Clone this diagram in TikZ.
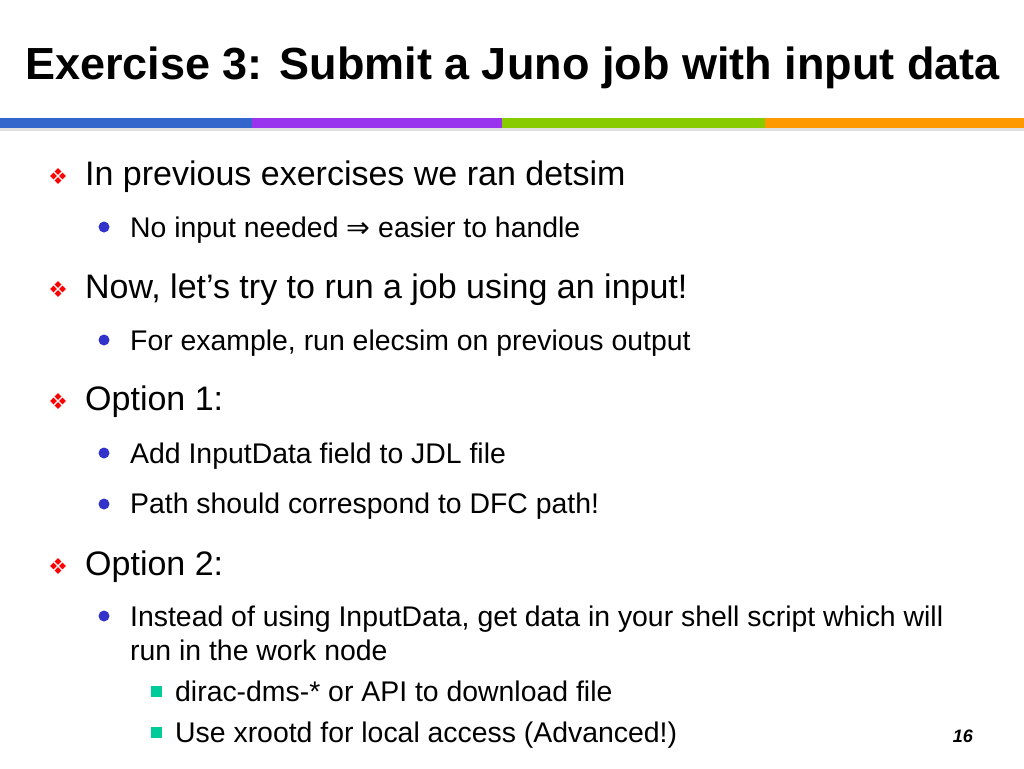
\documentclass[tikz,border=0pt]{standalone}
\usepackage{fontspec}
\setmainfont{Liberation Sans}
\newfontfamily\dejavu{DejaVu Sans}
\definecolor{cblue}{HTML}{3366CC}
\definecolor{cpurple}{HTML}{9933EE}
\definecolor{cgreen}{HTML}{88CC00}
\definecolor{corange}{HTML}{FF9900}
\definecolor{bulblue}{HTML}{3333CC}
\definecolor{teal}{HTML}{00CC99}
\tikzset{
 tl/.style={anchor=base west,inner sep=0pt,font=\fontsize{34}{40}\selectfont},
 sl/.style={anchor=base west,inner sep=0pt,font=\fontsize{28.4}{34}\selectfont},
}
\newcommand{\dbul}[2]{\foreach \dx/\dy in {0/-4.5,0/4.5,-4.5/0,4.5/0}{\fill[red] (#1+\dx,#2+\dy) +(0,-3.3) -- +(3.3,0) -- +(0,3.3) -- +(-3.3,0) -- cycle;}}
\begin{document}
\begin{tikzpicture}[x=1pt,y=-1pt]
\useasboundingbox (0,0) rectangle (1024,768);
\fill[white] (0,0) rectangle (1024,768);
\node[anchor=base west,inner sep=0pt,font=\fontsize{45}{52}\selectfont\bfseries] (title) at (25,79) {Exercise 3: Submit a Juno job with input data};
\fill[cblue] (0,118) rectangle (252,128);
\fill[cpurple] (252,118) rectangle (502,128);
\fill[cgreen] (502,118) rectangle (765,128);
\fill[corange] (765,118) rectangle (1024,128);
\fill[black!12] (0,128) rectangle (1024,131);
\dbul{58}{176}
\node[tl] (a) at (85,185) {In previous exercises we ran detsim};
\fill[bulblue] (104,227) circle (5.5);
\node[sl] (a1) at (130,237) {No input needed {\dejavu ⇒} easier to handle};
\dbul{58}{289}
\node[tl] (b) at (85,298) {Now, let’s try to run a job using an input!};
\fill[bulblue] (104,340) circle (5.5);
\node[sl] (b1) at (130,350) {For example, run elecsim on previous output};
\dbul{58}{401}
\node[tl] (c) at (85,410) {Option 1:};
\fill[bulblue] (104,453) circle (5.5);
\node[sl] (c1) at (130,463) {Add InputData field to JDL file};
\fill[bulblue] (104,504) circle (5.5);
\node[sl] (c2) at (130,513) {Path should correspond to DFC path!};
\dbul{58}{566}
\node[tl] (d) at (85,575) {Option 2:};
\fill[bulblue] (104,616) circle (5.5);
\node[sl] (d1) at (130,626) {Instead of using InputData, get data in your shell script which will};
\node[sl] (d1b) at (130,660) {run in the work node};
\fill[teal] (151,686) rectangle (162,697);
\node[sl] (d2) at (175,701) {dirac-dms-* or API to download file};
\fill[teal] (151,727) rectangle (162,738);
\node[sl] (d3) at (175,742) {Use xrootd for local access (Advanced!)};
\node[anchor=base east,inner sep=0pt,font=\fontsize{18}{22}\selectfont\bfseries\itshape] (pg) at (973,742) {16};
\end{tikzpicture}
\end{document}
